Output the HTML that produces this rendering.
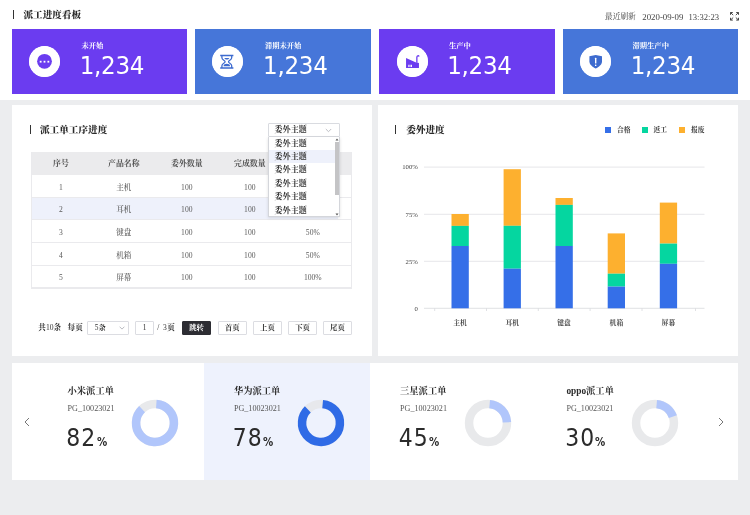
<!DOCTYPE html>
<html lang="zh-CN">
<head>
<meta charset="utf-8">
<title>派工进度看板</title>
<style>
*{margin:0;padding:0;box-sizing:border-box}
html,body{width:750px;height:515px;overflow:hidden}
body{position:relative;background:#ecedef;font-family:"Liberation Serif","Noto Serif CJK SC",serif;color:#333;-webkit-font-smoothing:antialiased}
.abs{position:absolute}
.t{position:absolute;white-space:nowrap;line-height:14px;height:14px}
.b{font-weight:700}
.hdr{left:0;top:0;width:750px;height:100px;background:#fff}
.vbar{position:absolute;width:1px;height:9px;background:#333}
.kpi{position:absolute;top:29px;width:175.6px;height:64.6px}
.kpi .ic{position:absolute;left:17.4px;top:17.2px;width:31px;height:31px;border-radius:50%;background:#fff}
.kpi .lb{position:absolute;left:69.8px;top:10px;font-size:7.3px;line-height:14px;color:#fff;font-weight:700;white-space:nowrap}
.kpi .num{position:absolute;left:68px;top:21.2px;font-family:"DejaVu Sans Condensed","DejaVu Sans","Liberation Sans",sans-serif;font-stretch:condensed;font-size:25.6px;line-height:30px;color:#fff;white-space:nowrap;letter-spacing:-0.3px}
.purple{background:#6b3cf0}
.blue{background:#4676d9}
.panel{position:absolute;background:#fff}

.ptitle{font-size:9.65px;color:#2b2b2b;font-weight:900}
.tbl{position:absolute;left:31px;top:151.5px;width:321px;height:137.5px;border:1px solid #eaeaed;border-top:none}
.tr{position:absolute;left:0;width:100%;height:22.7px;border-bottom:1px solid #eaeaed}
.tr.h{background:#ebebed;border-bottom:none;height:23.5px}
.tr.sel{background:linear-gradient(90deg,#eef1fb 0,#eef1fb 306px,#fff 306px)}
.td{position:absolute;top:1.6px;height:22.75px;line-height:22.75px;width:63px;text-align:center;font-size:7.6px;color:#5a5a5a;font-weight:500;white-space:nowrap}
.tr.h .td{font-size:7.9px;color:#505050;font-weight:700}
.c1{left:-2.5px}.c2{left:60.3px}.c3{left:123.3px}.c4{left:186.3px}.c5{left:249.3px}
.sel1{position:absolute;left:268px;top:123px;width:72px;height:13.5px;border:1px solid #d9dbe0;border-radius:1px;background:#fff}
.dd{position:absolute;left:268px;top:136.5px;width:72px;height:80.5px;background:#fff;border:1px solid #d4d6db;border-top:none;box-shadow:0 1px 3px rgba(0,0,0,.12)}
.dd .it{position:absolute;left:0;width:66px;height:13.4px;line-height:13.4px;padding-left:5.5px;font-size:8.1px;font-weight:700;color:#333;white-space:nowrap}
.dd .it.on{background:#eef1fb}
.pg{font-size:7.6px;color:#333;font-weight:700}
.box{position:absolute;top:320.5px;height:14px;border:1px solid #dcdde2;border-radius:1px;background:#fff;font-size:7.4px;line-height:12px;color:#333;font-weight:700;text-align:center;white-space:nowrap}
.box.dark{background:#2d2d33;border-color:#2d2d33;color:#fff;font-weight:700}

.lg{font-size:6.75px;color:#333;font-weight:700}
.sq{position:absolute;top:127px;width:6.2px;height:6.2px}
svg text{font-family:"Liberation Serif","Noto Serif CJK SC",serif}

.wt{font-size:9.3px;font-weight:700;color:#2b2b2b;margin-left:-0.4px}
.pgn{font-size:8.15px;color:#555;margin-left:-0.4px}
.big{position:absolute;white-space:nowrap;font-family:"DejaVu Sans Condensed","DejaVu Sans","Liberation Sans",sans-serif;font-stretch:condensed;font-size:24.4px;line-height:28px;color:#2b2b2b;letter-spacing:1px}
.big span{display:inline-block;font-size:12.6px;margin-left:0.3px;font-weight:700;letter-spacing:0;transform:scaleX(0.9);transform-origin:left bottom}
i{font-style:normal;font-weight:400}
</style>
</head>
<body>
<div class="abs hdr"></div>
<div class="vbar" style="left:13px;top:9.8px"></div>
<div class="t" style="left:23.5px;top:7.5px;font-size:9.6px;color:#2b2b2b;font-weight:900">派工进度看板</div>
<div class="t" style="left:605px;top:9.5px;font-size:7.7px;color:#444">最近刷新</div>
<div class="t" style="left:642.3px;top:9.6px;font-size:8.8px;color:#444">2020-09-09</div>
<div class="t" style="left:688.5px;top:9.6px;font-size:8.6px;color:#444">13:32:23</div>
<svg class="abs" style="left:729.8px;top:12px" width="9" height="8.6" viewBox="0 0 9 8.6" fill="none" stroke="#333" stroke-width="0.9"><path d="M0.5 2.8V0.5H2.8M6.2 0.5H8.5V2.8M8.5 5.8V8.1H6.2M2.8 8.1H0.5V5.8M0.7 0.7L3.2 3.1M8.3 0.7L5.8 3.1M8.3 7.9L5.8 5.5M0.7 7.9L3.2 5.5"/></svg>

<div class="kpi purple" style="left:11.7px"><svg class="ic" viewBox="0 0 31 31"><circle cx="15.5" cy="15.5" r="15.5" fill="#fff"/><circle cx="15.5" cy="15.3" r="7.4" fill="#6b3cf0"/><rect x="10.75" y="14.8" width="1.8" height="1.8" fill="#fff"/><rect x="14.6" y="14.8" width="1.8" height="1.8" fill="#fff"/><rect x="18.45" y="14.8" width="1.8" height="1.8" fill="#fff"/></svg><div class="lb">未开始</div><div class="num">1,234</div></div>
<div class="kpi blue" style="left:195.1px"><svg class="ic" viewBox="0 0 31 31"><circle cx="15.5" cy="15.5" r="15.5" fill="#fff"/><g fill="none" stroke="#3d6bcf" stroke-width="1.3"><path d="M8.2 9.5H21.4M8.2 22H21.4"/><path d="M9.9 9.5V11.8C9.9 14 13.1 14.3 13.1 15.75C13.1 17.2 9.9 17.5 9.9 19.7V22M19.7 9.5V11.8C19.7 14 16.5 14.3 16.5 15.75C16.5 17.2 19.7 17.5 19.7 19.7V22"/></g><path d="M12.3 11.9H17.3C16.8 13 15.8 13.4 14.8 13.4C13.8 13.4 12.8 13 12.3 11.9Z" fill="#3d6bcf"/><path d="M11.5 20.2C11.5 18.5 13.3 17.8 14.8 17.8C16.3 17.8 18.1 18.5 18.1 20.2Z" fill="#3d6bcf"/></svg><div class="lb">滞期未开始</div><div class="num">1,234</div></div>
<div class="kpi purple" style="left:379.2px"><svg class="ic" viewBox="0 0 31 31"><circle cx="15.5" cy="15.5" r="15.5" fill="#fff"/><g transform="translate(0.55,0.35)"><path d="M8.5 11.6L17.9 15.9L21.4 16.7V21.7H8.5Z" fill="#6b3cf0"/><path d="M19.3 16.5V11.2C19.3 9.2 20.9 8.9 21.6 10.2" fill="none" stroke="#6b3cf0" stroke-width="1.3"/><rect x="10.8" y="18.4" width="1.2" height="2.3" fill="#fff"/><rect x="12.9" y="18.4" width="1.5" height="2.3" fill="#fff"/></g></svg><div class="lb">生产中</div><div class="num">1,234</div></div>
<div class="kpi blue" style="left:562.7px"><svg class="ic" viewBox="0 0 31 31"><circle cx="15.5" cy="15.5" r="15.5" fill="#fff"/><path d="M15.7 9L22 10.3V15.3C22 18.8 18.8 21 15.7 22.6C12.6 21 9.4 18.8 9.4 15.3V10.3Z" fill="#3d6bcf"/><rect x="15" y="11.8" width="1.4" height="5.8" rx="0.5" fill="#fff"/><rect x="15" y="18.6" width="1.4" height="1.4" rx="0.5" fill="#fff"/></svg><div class="lb">滞期生产中</div><div class="num">1,234</div></div>

<div class="panel" id="p1" style="left:12px;top:105px;width:359.5px;height:251px"></div>

<div class="vbar" style="left:29.5px;top:125px"></div>
<div class="t ptitle" style="left:40px;top:122.5px">派工单工序进度</div>
<div class="tbl">
<div class="tr h" style="top:0"><div class="td c1">序号</div><div class="td c2">产品名称</div><div class="td c3">委外数量</div><div class="td c4">完成数量</div><div class="td c5">完成率</div></div>
<div class="tr" style="top:23.50px"><div class="td c1">1</div><div class="td c2">主机</div><div class="td c3">100</div><div class="td c4">100</div><div class="td c5">100%</div></div>
<div class="tr sel" style="top:46.20px"><div class="td c1">2</div><div class="td c2">耳机</div><div class="td c3">100</div><div class="td c4">100</div><div class="td c5">100%</div></div>
<div class="tr" style="top:68.90px"><div class="td c1">3</div><div class="td c2">键盘</div><div class="td c3">100</div><div class="td c4">100</div><div class="td c5">50%</div></div>
<div class="tr" style="top:91.60px"><div class="td c1">4</div><div class="td c2">机箱</div><div class="td c3">100</div><div class="td c4">100</div><div class="td c5">50%</div></div>
<div class="tr" style="top:114.30px"><div class="td c1">5</div><div class="td c2">屏幕</div><div class="td c3">100</div><div class="td c4">100</div><div class="td c5">100%</div></div>
</div>

<div class="sel1"><div class="t" style="left:5.5px;top:-1px;font-size:8.1px;font-weight:700;color:#333">委外主题</div>
<svg class="abs" style="left:56px;top:3.5px" width="7" height="5" viewBox="0 0 7 5" fill="none" stroke="#b5b7bd" stroke-width="0.9"><path d="M0.8 1L3.5 3.7L6.2 1"/></svg></div>
<div class="dd">
<div class="it" style="top:0">委外主题</div>
<div class="it on" style="top:13.4px">委外主题</div>
<div class="it" style="top:26.8px">委外主题</div>
<div class="it" style="top:40.2px">委外主题</div>
<div class="it" style="top:53.6px">委外主题</div>
<div class="it" style="top:67px">委外主题</div>
<div class="abs" style="left:66.3px;top:5.5px;width:4px;height:53px;background:#c4c4c6"></div>
<svg class="abs" style="left:66.3px;top:1px" width="4" height="3" viewBox="0 0 4 3"><path d="M2 0.5L3.5 2.5H0.5Z" fill="#555"/></svg>
<svg class="abs" style="left:66.3px;top:76px" width="4" height="3" viewBox="0 0 4 3"><path d="M2 2.5L3.5 0.5H0.5Z" fill="#555"/></svg>
</div>
<div class="t pg" style="left:38.3px;top:320.5px">共<i>10</i>条</div>
<div class="t pg" style="left:67.6px;top:320.5px">每页</div>
<div class="box" style="left:87.3px;width:41.5px;text-align:left;padding-left:6.5px"><i>5</i>条<svg class="abs" style="left:30.5px;top:4px" width="6" height="4" viewBox="0 0 6 4" fill="none" stroke="#a9abb1" stroke-width="0.8"><path d="M0.6 0.7L3 3.1L5.4 0.7"/></svg></div>
<div class="box" style="left:135.2px;width:19px"><i>1</i></div>
<div class="t pg" style="left:157.3px;top:320.5px;word-spacing:1.2px;letter-spacing:0.3px"><i>/ 3</i>页</div>
<div class="box dark" style="left:182px;width:29.2px">跳转</div>
<div class="box" style="left:217.8px;width:29px">首页</div>
<div class="box" style="left:252.8px;width:29.2px">上页</div>
<div class="box" style="left:288.2px;width:28.8px">下页</div>
<div class="box" style="left:322.8px;width:29.2px">尾页</div>
<div class="panel" id="p2" style="left:378px;top:105px;width:360px;height:251px"></div>

<div class="vbar" style="left:395px;top:125px"></div>
<div class="t ptitle" style="left:406.2px;top:122.5px">委外进度</div>
<div class="sq" style="left:605px;background:#356fe8"></div><div class="t lg" style="left:617px;top:123px">合格</div>
<div class="sq" style="left:641.8px;background:#05d6a0"></div><div class="t lg" style="left:653.4px;top:123px">返工</div>
<div class="sq" style="left:679px;background:#fdb02f"></div><div class="t lg" style="left:691px;top:123px">报废</div>
<svg class="abs" style="left:379px;top:105px" width="359" height="251" viewBox="379 105 359 251">
<path d="M424 167.1H704.5" stroke="#dfe0e4" stroke-width="0.8"/><text x="417.8" y="169.4" text-anchor="end" font-size="6.7" fill="#444">100%</text>
<path d="M424 214.3H704.5" stroke="#dfe0e4" stroke-width="0.8"/><text x="417.8" y="216.6" text-anchor="end" font-size="6.7" fill="#444">75%</text>
<path d="M424 261.3H704.5" stroke="#dfe0e4" stroke-width="0.8"/><text x="417.8" y="263.6" text-anchor="end" font-size="6.7" fill="#444">25%</text>
<path d="M424 308.3H704.5" stroke="#d8d9dd" stroke-width="0.8"/><text x="417.8" y="310.6" text-anchor="end" font-size="6.7" fill="#444">0</text>
<path d="M434.7 308.3V311" stroke="#d8d9dd" stroke-width="0.8"/><path d="M486.5 308.3V311" stroke="#d8d9dd" stroke-width="0.8"/><path d="M538.3 308.3V311" stroke="#d8d9dd" stroke-width="0.8"/><path d="M590.1 308.3V311" stroke="#d8d9dd" stroke-width="0.8"/><path d="M642.0 308.3V311" stroke="#d8d9dd" stroke-width="0.8"/><path d="M695.5 308.3V311" stroke="#d8d9dd" stroke-width="0.8"/>
<rect x="451.5" y="214.0" width="17.3" height="11.9" fill="#fdb02f"/><rect x="451.5" y="225.9" width="17.3" height="20.1" fill="#05d6a0"/><rect x="451.5" y="246.0" width="17.3" height="62.3" fill="#356fe8"/><text x="460.1" y="325.2" text-anchor="middle" font-size="6.8" font-weight="700" fill="#444">主机</text>
<rect x="503.6" y="169.2" width="17.3" height="56.6" fill="#fdb02f"/><rect x="503.6" y="225.8" width="17.3" height="42.9" fill="#05d6a0"/><rect x="503.6" y="268.7" width="17.3" height="39.6" fill="#356fe8"/><text x="512.2" y="325.2" text-anchor="middle" font-size="6.8" font-weight="700" fill="#444">耳机</text>
<rect x="555.5" y="198.0" width="17.3" height="6.9" fill="#fdb02f"/><rect x="555.5" y="204.9" width="17.3" height="41.1" fill="#05d6a0"/><rect x="555.5" y="246.0" width="17.3" height="62.3" fill="#356fe8"/><text x="564.1" y="325.2" text-anchor="middle" font-size="6.8" font-weight="700" fill="#444">键盘</text>
<rect x="607.7" y="233.4" width="17.3" height="40.3" fill="#fdb02f"/><rect x="607.7" y="273.7" width="17.3" height="12.9" fill="#05d6a0"/><rect x="607.7" y="286.6" width="17.3" height="21.7" fill="#356fe8"/><text x="616.4" y="325.2" text-anchor="middle" font-size="6.8" font-weight="700" fill="#444">机箱</text>
<rect x="659.8" y="202.6" width="17.3" height="41.0" fill="#fdb02f"/><rect x="659.8" y="243.6" width="17.3" height="20.2" fill="#05d6a0"/><rect x="659.8" y="263.8" width="17.3" height="44.5" fill="#356fe8"/><text x="668.4" y="325.2" text-anchor="middle" font-size="6.8" font-weight="700" fill="#444">屏幕</text>
</svg>
<div class="panel" id="p3" style="left:12px;top:362.5px;width:726px;height:117px"></div>
<div class="abs" style="left:204px;top:362.5px;width:166px;height:117px;background:#eef2fd"></div>
<svg class="abs" style="left:23px;top:416.5px" width="8" height="10" viewBox="0 0 8 10" fill="none" stroke="#777" stroke-width="1"><path d="M6 1L2 5L6 9"/></svg>
<svg class="abs" style="left:716.5px;top:416.5px" width="8" height="10" viewBox="0 0 8 10" fill="none" stroke="#777" stroke-width="1"><path d="M2 1L6 5L2 9"/></svg>
<div class="t wt" style="left:67.9px;top:384px">小米派工单</div><div class="t pgn" style="left:67.9px;top:401.5px">PG_10023021</div><div class="big" style="left:66.3px;top:424.2px">82<span>%</span></div><svg class="abs" style="left:130.4px;top:398.2px" width="50" height="50" viewBox="-25 -25 50 50"><circle r="18.95" fill="none" stroke="#e8e9eb" stroke-width="8.5"/><circle r="18.95" fill="none" stroke="#b1c6fb" stroke-width="8.5" stroke-dasharray="102.86 16.21" transform="rotate(-86.0)"/></svg>
<div class="t wt" style="left:234.3px;top:384px">华为派工单</div><div class="t pgn" style="left:234.3px;top:401.5px">PG_10023021</div><div class="big" style="left:232.7px;top:424.2px">78<span>%</span></div><svg class="abs" style="left:296.4px;top:398.2px" width="50" height="50" viewBox="-25 -25 50 50"><circle r="18.95" fill="none" stroke="#e7e8ec" stroke-width="8.5"/><circle r="18.95" fill="none" stroke="#2f6be6" stroke-width="8.5" stroke-dasharray="102.20 16.87" transform="rotate(-85.0)"/></svg>
<div class="t wt" style="left:400.4px;top:384px">三星派工单</div><div class="t pgn" style="left:400.4px;top:401.5px">PG_10023021</div><div class="big" style="left:398.8px;top:424.2px">45<span>%</span></div><svg class="abs" style="left:463.0px;top:398.2px" width="50" height="50" viewBox="-25 -25 50 50"><circle r="18.95" fill="none" stroke="#e8e9eb" stroke-width="8.5"/><circle r="18.95" fill="none" stroke="#b1c6fb" stroke-width="8.5" stroke-dasharray="27.12 91.95" transform="rotate(-85.0)"/></svg>
<div class="t wt" style="left:566.8px;top:384px">oppo派工单</div><div class="t pgn" style="left:566.8px;top:401.5px">PG_10023021</div><div class="big" style="left:565.2px;top:424.2px">30<span>%</span></div><svg class="abs" style="left:629.5px;top:398.2px" width="50" height="50" viewBox="-25 -25 50 50"><circle r="18.95" fill="none" stroke="#e8e9eb" stroke-width="8.5"/><circle r="18.95" fill="none" stroke="#b1c6fb" stroke-width="8.5" stroke-dasharray="21.50 97.57" transform="rotate(-85.0)"/></svg>
</body>
</html>
